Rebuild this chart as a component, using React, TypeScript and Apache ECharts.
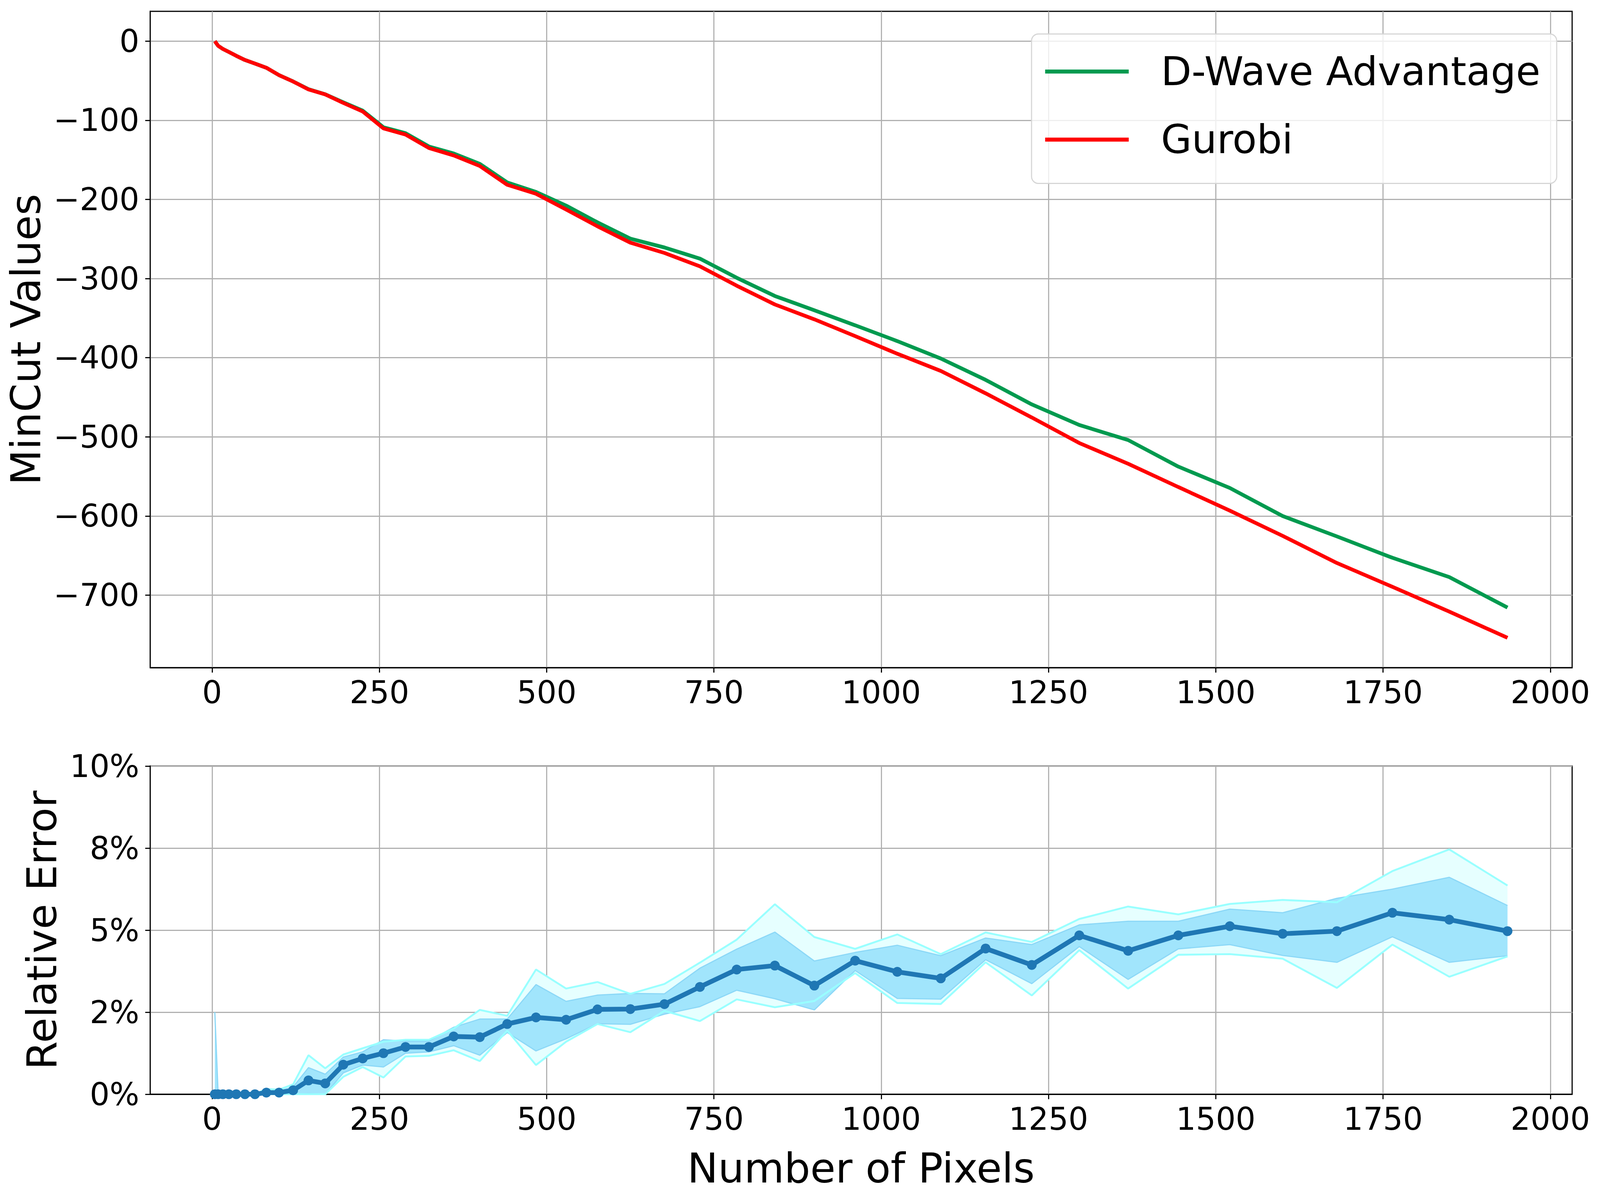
import React, { useEffect, useRef } from "react";
import * as echarts from "echarts";

// ---------- data ----------
const pixels = [4, 9, 16, 25, 36, 49, 64, 81, 100, 121, 144, 169, 196, 225, 256, 289, 324, 361, 400, 441, 484, 529, 576, 625, 676, 729, 784, 841, 900, 961, 1024, 1089, 1156, 1225, 1296, 1369, 1444, 1521, 1600, 1681, 1764, 1849, 1936];

const dwave = [0, -5.9, -9.8, -13.7, -18.5, -23.8, -28.3, -33.6, -43, -50.9, -60.7, -67.1, -77.3, -87.8, -108.8, -116.3, -133.1, -141.9, -155, -178.5, -190.5, -207.8, -229, -249.5, -260.7, -274.8, -299, -322, -340, -359, -379, -401, -428, -459, -485, -504, -537.6, -564.6, -600.1, -625.8, -652.8, -677.2, -715.7];

const gurobi = [0, -5.9, -9.8, -13.7, -18.5, -23.8, -28.3, -33.6, -43, -51, -61, -67.3, -78, -88.8, -110.2, -118, -135, -144.4, -157.7, -181.5, -192.8, -212.7, -234, -254.6, -267.6, -284.5, -309, -332.7, -351.5, -372.7, -395, -416.7, -445, -475.5, -507.8, -534, -563.4, -593.2, -625.1, -659.4, -689.5, -720.8, -753.9];

// relative error, in percent
const errMean = [0, 0, 0, 0, 0, 0, 0, 0.05, 0.05, 0.12, 0.42, 0.33, 0.9, 1.09, 1.25, 1.44, 1.44, 1.76, 1.74, 2.14, 2.34, 2.27, 2.585, 2.595, 2.745, 3.27, 3.8, 3.92, 3.31, 4.07, 3.73, 3.53, 4.44, 3.94, 4.84, 4.37, 4.84, 5.12, 4.89, 4.97, 5.53, 5.32, 4.97];

const errBandHigh = [2.5, 0, 0, 0, 0, 0, 0, 0.1, 0.1, 0.22, 0.81, 0.61, 1.13, 1.29, 1.66, 1.62, 1.62, 2.04, 2.29, 2.29, 3.34, 2.83, 3.02, 3.07, 3.06, 3.84, 4.42, 4.94, 4.06, 4.32, 4.54, 4.22, 4.76, 4.56, 5.16, 5.27, 5.27, 5.64, 5.53, 5.97, 6.25, 6.61, 5.75];

const errBandLow = [0, 0, 0, 0, 0, 0, 0, 0, 0, 0, 0.02, 0, 0.65, 0.89, 0.83, 1.25, 1.29, 1.48, 1.19, 1.88, 1.32, 1.69, 2.15, 2.13, 2.44, 2.67, 3.17, 2.91, 2.57, 3.77, 2.92, 2.9, 4.1, 3.37, 4.5, 3.5, 4.43, 4.56, 4.23, 4.02, 4.8, 4.02, 4.22];

const errMax = [0, 0, 0, 0, 0, 0, 0, 0.16, 0.14, 0.3, 1.19, 0.79, 1.21, 1.4, 1.6, 1.66, 1.66, 2.0, 2.57, 2.39, 3.8, 3.22, 3.42, 3.06, 3.36, 4.01, 4.71, 5.79, 4.79, 4.43, 4.87, 4.27, 4.93, 4.64, 5.34, 5.72, 5.48, 5.8, 5.92, 5.85, 6.8, 7.46, 6.36];

const errMin = [0, 0, 0, 0, 0, 0, 0, 0, 0, 0, 0, 0, 0.53, 0.83, 0.51, 1.15, 1.17, 1.34, 1.01, 1.94, 0.89, 1.6, 2.14, 1.89, 2.54, 2.23, 2.89, 2.65, 2.84, 3.69, 2.78, 2.75, 4.02, 3.01, 4.39, 3.22, 4.25, 4.27, 4.13, 3.24, 4.56, 3.58, 4.2];

const xTicks = [0, 250, 500, 750, 1000, 1250, 1500, 1750, 2000];
const minCutTicks = [-700, -600, -500, -400, -300, -200, -100, 0];
const errTicks = [0, 2.5, 5, 7.5, 10];
const errTickLabels = ["0%", "2%", "5%", "8%", "10%"];

// ---------- layout (design size) ----------
const W = 4709;
const H = 3082;
const FONT = "DejaVu Sans";

const xSpan = pixels[pixels.length - 1] - pixels[0];
const X_MIN = pixels[0] - 0.05 * xSpan;
const X_MAX = pixels[pixels.length - 1] + 0.05 * xSpan;
const yLo = Math.min(...gurobi, ...dwave);
const yHi = Math.max(...gurobi, ...dwave);
const Y_MIN = yLo - 0.05 * (yHi - yLo);
const Y_MAX = yHi + 0.05 * (yHi - yLo);

const pair = (arr: number[]) => pixels.map((x, i) => [x, arr[i]]);
const band = (lo: number[], hi: number[]) => pixels.map((x, i) => [x, lo[i], hi[i]]);
const minus = (v: number) => (v < 0 ? "\u2212" + Math.abs(v) : String(v));

function bandSeries(lo: number[], hi: number[], color: string) {
  return {
    type: "custom",
    xAxisIndex: 1,
    yAxisIndex: 1,
    silent: true,
    data: band(lo, hi),
    encode: { x: 0, y: [1, 2] },
    renderItem: (params: any, api: any) => {
      if (params.dataIndexInside !== 0) return null;
      const n = params.dataInsideLength;
      const top: number[][] = [];
      const bot: number[][] = [];
      for (let i = 0; i < n; i++) {
        const x = api.value(0, i);
        bot.push(api.coord([x, api.value(1, i)]));
        top.push(api.coord([x, api.value(2, i)]));
      }
      return {
        type: "polygon",
        shape: { points: top.concat(bot.reverse()) },
        style: { fill: color, stroke: "none" },
      };
    },
  };
}

export default function App() {
  const ref = useRef<HTMLDivElement>(null);
  useEffect(() => {
    const el = ref.current;
    if (!el) return;
    const vw = el.clientWidth || W;
    const vh = el.clientHeight || H;
    const sx = vw / W;
    const sy = vh / H;
    const sf = Math.min(sx, sy);
    const X = (v: number) => v * sx;
    const Y = (v: number) => v * sy;
    const F = (v: number) => v * sf;
    const lw = F(3.3);
    const legendFont = F(117);

    const chart = echarts.init(el, null, { renderer: "svg", width: vw, height: vh });

    const xAxisCfg = (gridIndex: number) => ({
      type: "value",
      gridIndex,
      min: X_MIN,
      max: X_MAX,
      axisLine: { show: true, onZero: false, lineStyle: { color: "#000", width: lw } },
      axisTick: { show: true, customValues: xTicks, length: F(14.6), lineStyle: { color: "#000", width: lw } },
      axisLabel: { show: true, customValues: xTicks, margin: Y(23), fontSize: F(92), fontFamily: FONT, color: "#000", formatter: (v: number) => String(v) },
      splitLine: { show: true, lineStyle: { color: "#b0b0b0", width: lw } },
    });

    const edge = (arr: number[], color: string, width: number) => ({
      type: "line",
      xAxisIndex: 1,
      yAxisIndex: 1,
      silent: true,
      symbol: "none",
      data: pair(arr),
      lineStyle: { color, width: F(width) },
    });

    const option: any = {
      animation: false,
      backgroundColor: "#fff",
      textStyle: { fontFamily: FONT },
      grid: [
        { left: X(442), top: Y(29), width: X(4185), height: Y(1680), show: true, borderColor: "#000", borderWidth: lw, backgroundColor: "transparent" },
        { left: X(442), top: Y(1961), width: X(4185), height: Y(840), show: true, borderColor: "#000", borderWidth: lw, backgroundColor: "transparent" },
      ],
      xAxis: [xAxisCfg(0), xAxisCfg(1)],
      yAxis: [
        {
          type: "value",
          gridIndex: 0,
          min: Y_MIN,
          max: Y_MAX,
          axisLine: { show: true, onZero: false, lineStyle: { color: "#000", width: lw } },
          axisTick: { show: true, customValues: minCutTicks, length: F(14.6), lineStyle: { color: "#000", width: lw } },
          axisLabel: { show: true, customValues: minCutTicks, margin: X(32), fontSize: F(92), fontFamily: FONT, color: "#000", formatter: (v: number) => minus(v) },
          splitLine: { show: true, lineStyle: { color: "#b0b0b0", width: lw } },
        },
        {
          type: "value",
          gridIndex: 1,
          min: 0,
          max: 10,
          axisLine: { show: true, onZero: false, lineStyle: { color: "#000", width: lw } },
          axisTick: { show: true, customValues: errTicks, length: F(14.6), lineStyle: { color: "#000", width: lw } },
          axisLabel: {
            show: true,
            customValues: errTicks,
            margin: X(32),
            fontSize: F(92),
            fontFamily: FONT,
            color: "#000",
            formatter: (v: number) => {
              const i = errTicks.findIndex((t) => Math.abs(t - v) < 1e-6);
              return i >= 0 ? errTickLabels[i] : "";
            },
          },
          splitLine: { show: true, lineStyle: { color: "#b0b0b0", width: lw } },
        },
      ],
      legend: {
        data: [
          { name: "D-Wave Advantage", icon: "rect" },
          { name: "Gurobi", icon: "rect" },
        ],
        orient: "vertical",
        left: X(3036),
        top: Y(87),
        itemWidth: X(246),
        itemHeight: F(12),
        itemGap: Math.max(0, Y(174) - legendFont),
        padding: [Y(96) - legendFont / 2, X(48), Y(112) - legendFont / 2, X(40)],
        backgroundColor: "rgba(255,255,255,0.8)",
        borderColor: "#d6d6d6",
        borderWidth: lw,
        borderRadius: F(20),
        selectedMode: false,
        itemStyle: { borderWidth: 0 },
        textStyle: { fontSize: legendFont, fontFamily: FONT, color: "#000", padding: [0, 0, 0, X(89)] },
      },
      graphic: [
        { type: "text", x: X(76), y: Y(869), rotation: Math.PI / 2, style: { text: "MinCut Values", fontSize: F(121), fontFamily: FONT, fill: "#000", align: "center", verticalAlign: "middle" } },
        { type: "text", x: X(124), y: Y(2381), rotation: Math.PI / 2, style: { text: "Relative Error", fontSize: F(121), fontFamily: FONT, fill: "#000", align: "center", verticalAlign: "middle" } },
        { type: "text", x: X(2534), y: Y(2990), style: { text: "Number of Pixels", fontSize: F(121), fontFamily: FONT, fill: "#000", align: "center", verticalAlign: "middle" } },
      ],
      series: [
        {
          name: "D-Wave Advantage",
          type: "line",
          xAxisIndex: 0,
          yAxisIndex: 0,
          data: pair(dwave),
          symbol: "none",
          lineStyle: { color: "#009a4f", width: F(11) },
          itemStyle: { color: "#009a4f" },
        },
        {
          name: "Gurobi",
          type: "line",
          xAxisIndex: 0,
          yAxisIndex: 0,
          data: pair(gurobi),
          symbol: "none",
          lineStyle: { color: "#ff0000", width: F(11) },
          itemStyle: { color: "#ff0000" },
        },
        bandSeries(errMin, errMax, "#e6ffff"),
        bandSeries(errBandLow, errBandHigh, "#a1e5fc"),
        edge(errBandHigh, "#8cd8f7", 3.5),
        edge(errBandLow, "#8cd8f7", 3.5),
        edge(errMax, "#99ffff", 5.5),
        edge(errMin, "#99ffff", 5.5),
        {
          name: "mean",
          type: "line",
          xAxisIndex: 1,
          yAxisIndex: 1,
          data: pair(errMean),
          symbol: "circle",
          symbolSize: F(29),
          showSymbol: true,
          lineStyle: { color: "#1f77b4", width: F(14) },
          itemStyle: { color: "#1f77b4" },
        },
      ],
    };
    chart.setOption(option);
    return () => chart.dispose();
  }, []);
  return <div ref={ref} style={{ position: "fixed", left: 0, top: 0, width: "100vw", height: "100vh", background: "#fff" }} />;
}
